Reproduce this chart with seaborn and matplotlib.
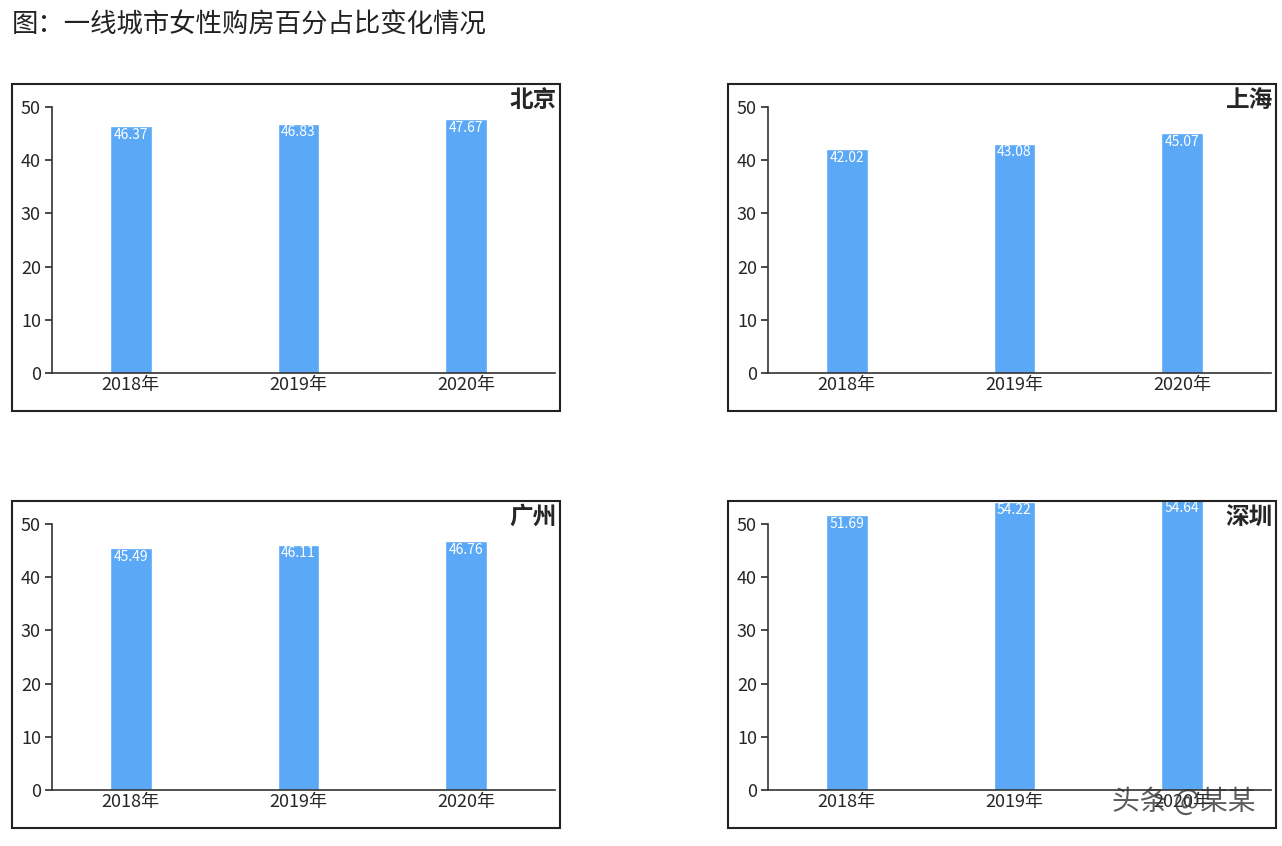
import matplotlib
matplotlib.use("Agg")
import matplotlib.pyplot as plt
import seaborn as sns
import pandas as pd
from matplotlib.patches import Rectangle

years = ["2018年", "2019年", "2020年"]
cities = ["北京", "上海", "广州", "深圳"]
beijing = [46.37, 46.83, 47.67]
shanghai = [42.02, 43.08, 45.07]
guangzhou = [45.49, 46.11, 46.76]
shenzhen = [51.69, 54.22, 54.64]
values = [beijing, shanghai, guangzhou, shenzhen]

sns.set_theme(style="white")
plt.rcParams['font.family'] = ['Noto Sans CJK SC', 'DejaVu Sans']

W, H = 1282, 846
fig = plt.figure(figsize=(12.82, 8.46), dpi=100)
fig.text(12 / W, 1 - 25 / H, "图：一线城市女性购房百分占比变化情况", fontsize=19, va="center", ha="left",
         fontweight="medium", color="#222222")

bar_color = "#5AA8F6"
for i, (city, vals) in enumerate(zip(cities, values)):
    dx = 716 * (i % 2)
    dy = 417 * (i // 2)
    fig.patches.append(Rectangle(((12 + dx) / W, 1 - (411 + dy) / H), 548 / W, 327 / H,
                                 transform=fig.transFigure, fill=False, ec="#222222", lw=1.5))
    ax = fig.add_axes([(52 + dx) / W, 1 - (373 + dy) / H, 503 / W, 266 / H])
    df = pd.DataFrame({"year": years, "v": vals})
    sns.barplot(data=df, x="year", y="v", ax=ax, color=bar_color, saturation=1, width=0.25)
    for p in ax.patches:
        p.set_clip_on(False)
    for j, v in enumerate(vals):
        ax.text(j, v - 0.3, f"{v:.2f}", color="white", ha="center", va="top", fontsize=10, clip_on=False)
    ax.set_ylim(0, 50)
    ax.set_xlim(-0.47, 2.53)
    ax.set_yticks(range(0, 51, 10))
    ax.set_xlabel("")
    ax.set_ylabel("")
    ax.set_xticks([-0.47, 0.5, 1.5, 2.53], minor=False)
    ax.set_xticklabels([])
    ax.set_xticks([0, 1, 2], minor=True)
    ax.set_xticklabels(years, minor=True, fontsize=13)
    ax.tick_params(axis="x", which="minor", length=0, pad=2)
    ax.tick_params(axis="x", which="major", length=5, direction="in", color="#333333")
    ax.tick_params(axis="y", length=5, direction="out", color="#333333", labelsize=13, pad=3, left=True)
    for s in ["top", "right"]:
        ax.spines[s].set_visible(False)
    for s in ["left", "bottom"]:
        ax.spines[s].set_color("#333333")
        ax.spines[s].set_linewidth(1.2)
    fig.text((557 + dx) / W, 1 - (100 + dy) / H, city, fontsize=17, ha="right", va="center", fontweight="bold")

fig.text(1255 / W, 1 - 802 / H, "头条 @某某", fontsize=20, ha="right", va="center", color="#333333", alpha=0.8)
fig.savefig("out.png", dpi=100)
